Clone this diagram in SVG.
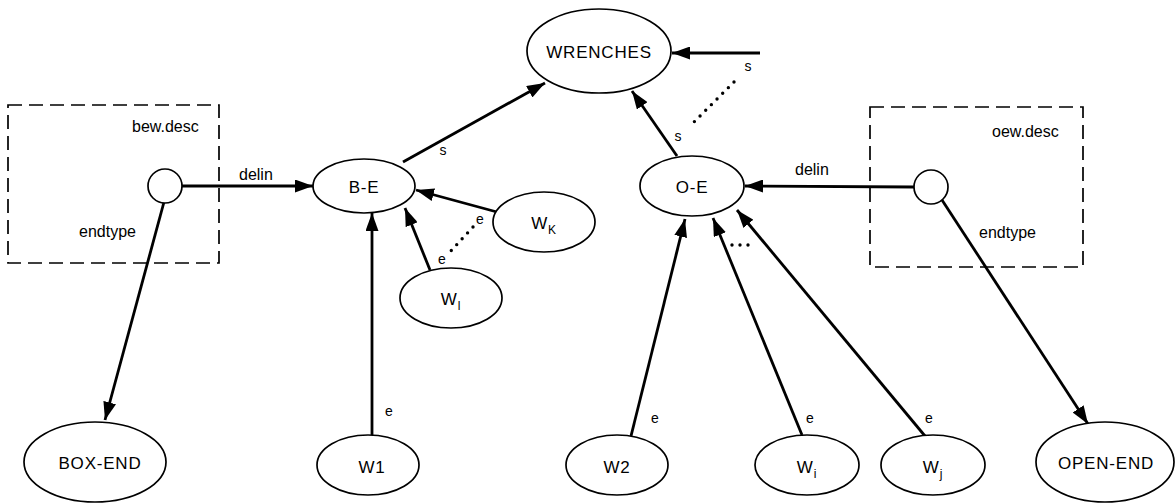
<svg xmlns="http://www.w3.org/2000/svg" width="1175" height="504" viewBox="0 0 1175 504">
<defs>
<marker id="ah" markerUnits="userSpaceOnUse" markerWidth="20" markerHeight="13" refX="18" refY="6.5" orient="auto">
<path d="M0,0 L18,6.5 L0,13 z" fill="#000"/>
</marker>
<style>
.n{fill:#fff;stroke:#000;stroke-width:1.7}
.t{font-family:"Liberation Sans",Arial,sans-serif;font-size:17px;fill:#000;text-anchor:middle;letter-spacing:0.8px}
.l{font-family:"Liberation Sans",Arial,sans-serif;font-size:16px;fill:#000}
.sm{font-family:"Liberation Sans",Arial,sans-serif;font-size:14px;fill:#000;text-anchor:middle}
.sub{font-size:12px}
.a{stroke:#000;stroke-width:2.8;fill:none;marker-end:url(#ah)}
.dot{stroke:#000;stroke-width:3.4;stroke-linecap:round;stroke-dasharray:0 8;fill:none}
.box{fill:none;stroke:#000;stroke-width:1.7;stroke-dasharray:14 7}
</style>
</defs>
<rect width="1175" height="504" fill="#fff"/>

<g id="bew-desc">
<rect class="box" x="8" y="105" width="211" height="158"/>
<text class="l" x="132" y="132">bew.desc</text>
</g>
<g id="oew-desc">
<rect class="box" x="870" y="107" width="213" height="160"/>
<text class="l" x="992" y="137">oew.desc</text>
</g>

<g id="connectors">
<line class="a" x1="182" y1="186" x2="313" y2="186"/>
<line class="a" x1="914" y1="187" x2="745" y2="186"/>
<line class="a" x1="164" y1="202" x2="105" y2="420"/>
<line class="a" x1="942" y1="200" x2="1088" y2="424"/>
<line class="a" x1="403" y1="162" x2="545" y2="83"/>
<line class="a" x1="677" y1="156" x2="632" y2="91"/>
<line class="a" x1="760" y1="53" x2="672" y2="53"/>
<line class="a" x1="372" y1="435" x2="372" y2="213"/>
<line class="a" x1="430" y1="270" x2="405" y2="208"/>
<line class="a" x1="497" y1="212" x2="416" y2="190"/>
<line class="a" x1="631" y1="436" x2="685" y2="219"/>
<line class="a" x1="802" y1="435" x2="713" y2="218"/>
<line class="a" x1="925" y1="436" x2="737" y2="210"/>
<line class="dot" x1="734" y1="82" x2="694" y2="122"/>
<line class="dot" x1="473" y1="227" x2="449" y2="253"/>
<line class="dot" x1="732" y1="245" x2="756" y2="245"/>
<text class="l" x="239" y="180">delin</text>
<text class="l" x="795" y="175">delin</text>
<text class="l" x="79" y="237">endtype</text>
<text class="l" x="979" y="238">endtype</text>
<text class="sm" x="443" y="155">s</text>
<text class="sm" x="678" y="141">s</text>
<text class="sm" x="748" y="71">s</text>
<text class="sm" x="480" y="224">e</text>
<text class="sm" x="442" y="264">e</text>
<text class="sm" x="389" y="416">e</text>
<text class="sm" x="655" y="423">e</text>
<text class="sm" x="810" y="423">e</text>
<text class="sm" x="929" y="423">e</text>
</g>

<g id="bew-circle"><circle class="n" cx="165" cy="186" r="17"/></g>
<g id="oew-circle"><circle class="n" cx="931" cy="187" r="17"/></g>

<g id="wrenches"><ellipse class="n" cx="599" cy="51" rx="72" ry="42"/><text class="t" x="599" y="58">WRENCHES</text></g>
<g id="be"><ellipse class="n" cx="364" cy="186" rx="51" ry="27"/><text class="t" x="364" y="193">B-E</text></g>
<g id="oe"><ellipse class="n" cx="692" cy="186" rx="52" ry="30"/><text class="t" x="692" y="193">O-E</text></g>
<g id="wk"><ellipse class="n" cx="544" cy="222" rx="51" ry="30"/><text class="t" x="544" y="229">W<tspan class="sub" dy="5">K</tspan></text></g>
<g id="wl"><ellipse class="n" cx="451" cy="298" rx="51" ry="30"/><text class="t" x="451" y="305">W<tspan class="sub" dy="5">l</tspan></text></g>
<g id="box-end"><ellipse class="n" cx="95" cy="462" rx="71" ry="40"/><text class="t" x="100" y="469">BOX-END</text></g>
<g id="w1"><ellipse class="n" cx="368" cy="465" rx="51" ry="30"/><text class="t" x="372" y="473">W1</text></g>
<g id="w2"><ellipse class="n" cx="617" cy="465" rx="51" ry="30"/><text class="t" x="617" y="473">W2</text></g>
<g id="wi"><ellipse class="n" cx="807" cy="465" rx="52" ry="30"/><text class="t" x="807" y="473">W<tspan class="sub" dy="5">i</tspan></text></g>
<g id="wj"><ellipse class="n" cx="933" cy="465" rx="52" ry="30"/><text class="t" x="933" y="473">W<tspan class="sub" dy="5">j</tspan></text></g>
<g id="open-end"><ellipse class="n" cx="1105" cy="462" rx="69" ry="40"/><text class="t" x="1106" y="469">OPEN-END</text></g>
</svg>
